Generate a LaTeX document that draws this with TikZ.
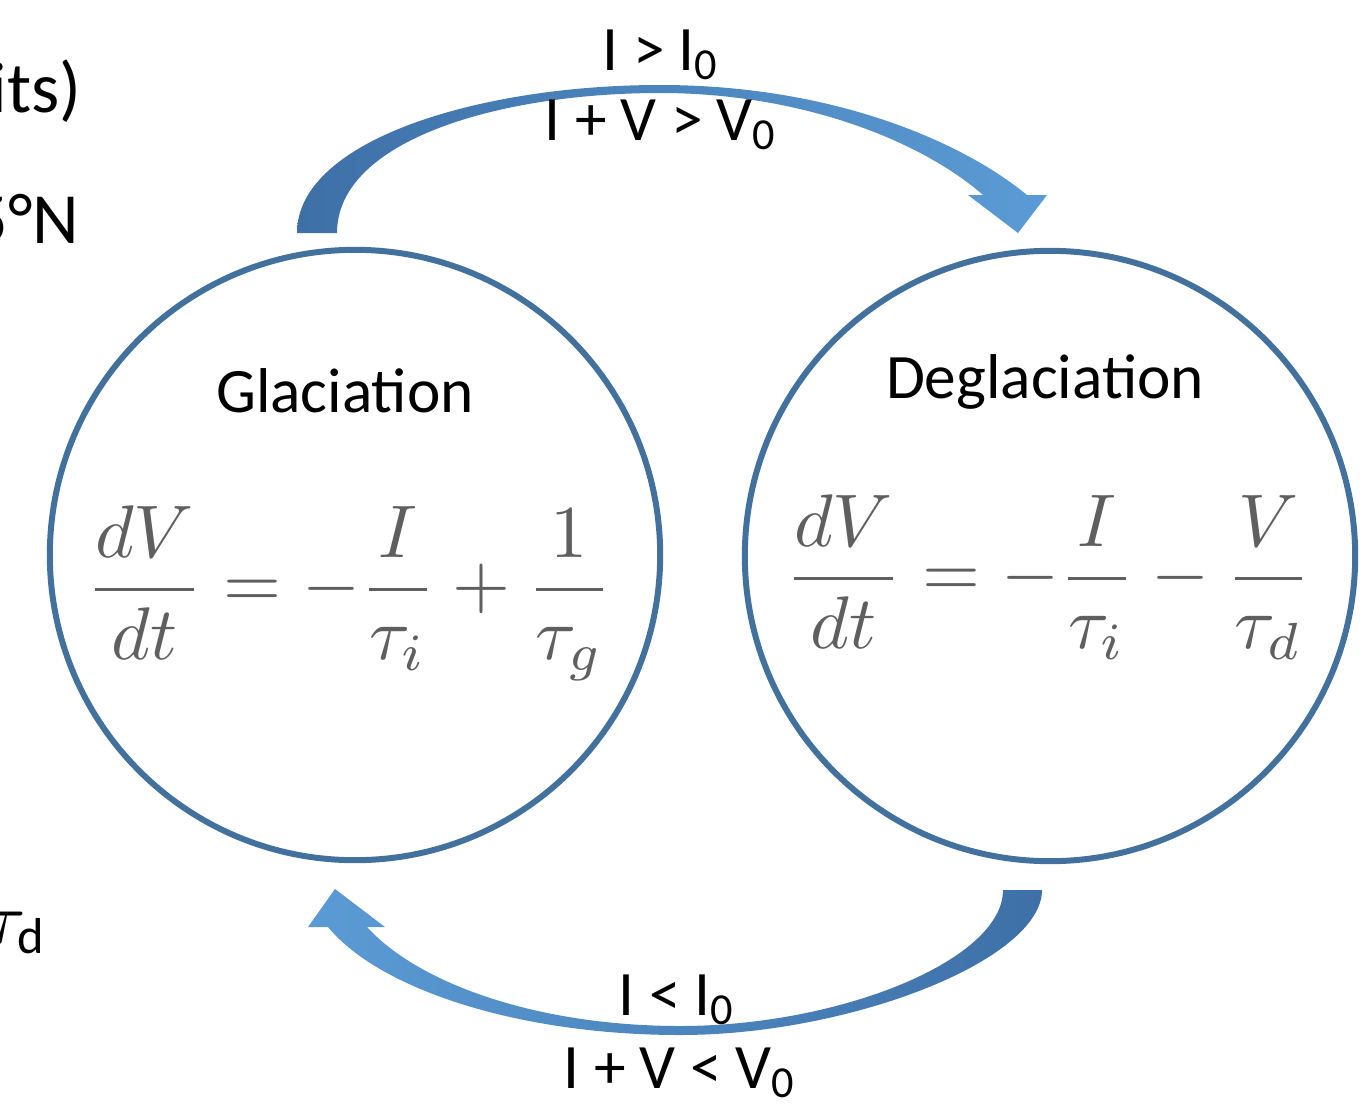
\documentclass[tikz,border=0pt]{standalone}
\usepackage{amsmath}
\usepackage{graphicx}
\usepackage{fontspec}
\setmainfont{Carlito}
\usetikzlibrary{positioning}
\definecolor{ringblue}{RGB}{65,113,156}
\definecolor{arrdark}{RGB}{62,112,167}
\definecolor{arrlight}{RGB}{91,155,213}
\definecolor{eqgray}{RGB}{95,95,95}

\begin{document}
\begin{tikzpicture}[x=0.01cm,y=-0.01cm,
  font=\fontsize{18}{22}\selectfont,
  phase/.style={draw=ringblue,line width=1.7pt,circle,minimum size=6.1cm,inner sep=0pt},
  eqn/.style={text=eqgray,inner sep=0pt,font=\fontsize{10}{12}\selectfont},
  cond/.style={inner sep=0pt,anchor=base},
  slide/.style={font=\fontsize{20.5}{24}\selectfont,inner sep=0pt,anchor=base east}]
\useasboundingbox (0,0) rectangle (1361,1106);
\node[phase] (glac) at (355,555) {};
\node[phase] (degl) at (1050,556) {};
\node[anchor=base] (glt) at (345,412) {Glaciation};
\node[anchor=base] (dgt) at (1045,398) {Deglaciation};
\node[eqn] (geq) at (349,593) {\scalebox{2.12}{$\displaystyle \frac{dV}{dt}=-\frac{I}{\tau_i}+\frac{1}{\tau_g}$}};
\node[eqn] (deq) at (1048,577) {\scalebox{2.12}{$\displaystyle \frac{dV}{dt}=-\frac{I}{\tau_i}-\frac{V}{\tau_d}$}};
% block arrows
\shade[left color=arrdark,right color=arrlight]
  (297,233) .. controls (297,140) and (480,85) .. (660,85)
  .. controls (830,85) and (960,140) .. (1027,195)
  -- (1047,195) -- (1018,233) -- (968,195) -- (983,195)
  .. controls (920,140) and (800,93) .. (660,93)
  .. controls (500,93) and (337,140) .. (337,233) -- cycle;
\shade[left color=arrlight,right color=arrdark]
  (1042,890) .. controls (1042,960) and (850,1035) .. (680,1035)
  .. controls (520,1035) and (380,990) .. (328,927)
  -- (308,927) -- (335,889) -- (385,927) -- (367,927)
  .. controls (420,985) and (540,1026) .. (680,1026)
  .. controls (840,1026) and (1003,960) .. (1003,890) -- cycle;
\node[cond] (up1) at (661,70) {I > I\textsubscript{0}};
\node[cond] (up2) at (661,140) {I + V > V\textsubscript{0}};
\node[cond] (dn1) at (677,1015) {I < I\textsubscript{0}};
\node[cond] (dn2) at (680,1088) {I + V < V\textsubscript{0}};
\node[slide] (s1) at (82,112) {its)};
\node[slide] (s2) at (80,243) {5°N};
\node[slide] (s3) at (46,943) {$\tau_{\text{d}}$};
\end{tikzpicture}
\end{document}
